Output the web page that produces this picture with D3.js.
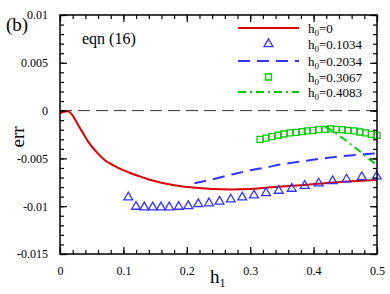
<!DOCTYPE html>
<meta charset="utf-8">
<style>
body { margin: 0; background: #fff; }
svg { font-family: "Liberation Serif", "Times New Roman", serif; }
.axis path { display: none; }
.axis line { stroke: #000; stroke-width: 1.2px; }
.axis text { font-size: 12px; font-family: "Liberation Serif", serif; fill: #000; }
</style>
<svg width="390" height="294"></svg>
<script src="https://d3js.org/d3.v7.min.js"></script>
<script>
// values in units of 1e-3
var redX = [0, 0.006, 0.012, 0.018, 0.024, 0.03, 0.035, 0.045, 0.06, 0.071, 0.085, 0.097, 0.11, 0.124, 0.14, 0.16, 0.18, 0.21, 0.24, 0.27, 0.30, 0.347, 0.39, 0.426, 0.46, 0.5];
var redY = [-0.3, -0.12, -0.08, -0.35, -0.95, -1.65, -2.2, -3.3, -4.5, -5.2, -5.75, -6.15, -6.5, -6.84, -7.2, -7.54, -7.8, -8.05, -8.2, -8.25, -8.2, -7.95, -7.75, -7.54, -7.4, -7.26];

var triX = [0.1077, 0.1199, 0.133, 0.1462, 0.1593, 0.1724, 0.1872, 0.2024, 0.2181, 0.235, 0.2517, 0.2694, 0.2875, 0.306, 0.325, 0.345, 0.3655, 0.386, 0.408, 0.430, 0.452, 0.476, 0.4995];
var triY = [-9.07, -10.05, -10.11, -10.11, -10.11, -10.11, -10.05, -9.98, -9.77, -9.69, -9.51, -9.28, -9.07, -8.86, -8.62, -8.38, -8.17, -7.86, -7.61, -7.37, -7.19, -6.95, -6.88];

var dashX = [0.212, 0.24, 0.273, 0.30, 0.326, 0.35, 0.379, 0.405, 0.431, 0.457, 0.484, 0.5];
var dashY = [-7.6, -7.2, -6.65, -6.25, -5.93, -5.62, -5.34, -5.08, -4.88, -4.7, -4.55, -4.45];

var sqX = [0.3155, 0.325, 0.334, 0.344, 0.353, 0.363, 0.372, 0.382, 0.390, 0.399, 0.408, 0.418, 0.427, 0.436, 0.445, 0.454, 0.464, 0.473, 0.482, 0.491, 0.5];
var sqY = [-3.0, -2.87, -2.73, -2.58, -2.45, -2.34, -2.27, -2.2, -2.13, -2.06, -2.0, -1.96, -1.92, -1.96, -2.0, -2.06, -2.13, -2.24, -2.34, -2.48, -2.6];

var ddX = [0.418, 0.43, 0.442, 0.453, 0.463, 0.474, 0.484, 0.492, 0.5];
var ddY = [-1.72, -2.1, -2.7, -3.2, -3.75, -4.3, -4.9, -5.3, -5.75];

var legendLabels = ["0", "0.1034", "0.2034", "0.3067", "0.4083"];
var xTicks = [0, 0.1, 0.2, 0.3, 0.4, 0.5];
var yTicks = [0.01, 0.005, 0, -0.005, -0.01, -0.015];

var svg = d3.select("svg"),
    pl = 60, pr = 377, pt = 15, pb = 254;

var x = d3.scaleLinear().domain([0, 0.5]).range([pl, pr]),
    y = d3.scaleLinear().domain([-0.015, 0.01]).range([pb, pt]);

function pts(xs, ys) {
  return xs.map(function(d, i) { return [d, ys[i] / 1000]; });
}

var line = d3.line()
    .curve(d3.curveMonotoneX)
    .x(function(d) { return x(d[0]); })
    .y(function(d) { return y(d[1]); });

// zero line
svg.append("line")
    .attr("x1", x(0)).attr("x2", x(0.5))
    .attr("y1", y(0)).attr("y2", y(0))
    .attr("stroke", "#333").attr("stroke-width", 1)
    .attr("stroke-dasharray", "12,6");

var red = "#dd0000", blue = "#3333ff", green = "#00cc00";

svg.append("path").datum(pts(redX, redY))
    .attr("d", line).attr("fill", "none")
    .attr("stroke", red).attr("stroke-width", 2);

svg.append("path").datum(pts(dashX, dashY))
    .attr("d", line).attr("fill", "none")
    .attr("stroke", blue).attr("stroke-width", 2)
    .attr("stroke-dasharray", "12,7");

svg.append("path").datum(pts(ddX, ddY))
    .attr("d", line).attr("fill", "none")
    .attr("stroke", green).attr("stroke-width", 1.8)
    .attr("stroke-dasharray", "8,4,2,4");

var tri = d3.symbol().type(d3.symbolTriangle).size(34),
    sq = d3.symbol().type(d3.symbolSquare).size(36);

svg.selectAll(".tri").data(pts(triX, triY)).enter().append("path")
    .attr("class", "tri")
    .attr("d", tri)
    .attr("transform", function(d) { return "translate(" + x(d[0]) + "," + y(d[1]) + ")"; })
    .attr("fill", "none").attr("stroke", blue).attr("stroke-width", 1.3);

svg.selectAll(".sq").data(pts(sqX, sqY)).enter().append("path")
    .attr("class", "sq")
    .attr("d", sq)
    .attr("transform", function(d) { return "translate(" + x(d[0]) + "," + y(d[1]) + ")"; })
    .attr("fill", "none").attr("stroke", green).attr("stroke-width", 1.3);

// frame
svg.append("rect")
    .attr("x", pl).attr("y", pt)
    .attr("width", pr - pl).attr("height", pb - pt)
    .attr("fill", "none").attr("stroke", "#000").attr("stroke-width", 1.5);

// axes (major ticks inward + minor ticks)
var xMinor = d3.range(0, 0.5001, 0.02), yMinor = d3.range(-0.015, 0.01001, 0.001);

function axisG(tr) {
  return svg.append("g").attr("class", "axis").attr("transform", tr);
}

axisG("translate(0," + pb + ")")
    .call(d3.axisBottom(x).tickValues(xTicks).tickSize(-7).tickPadding(12)
      .tickFormat(function(d) { return d === 0 ? "0" : d3.format(".1f")(d); }))
    .attr("font-family", "Liberation Serif").attr("font-size", 12);
axisG("translate(0," + pb + ")")
    .call(d3.axisBottom(x).tickValues(xMinor).tickSize(-4).tickFormat(""));
axisG("translate(0," + pt + ")")
    .call(d3.axisTop(x).tickValues(xTicks).tickSize(-7).tickFormat(""));
axisG("translate(0," + pt + ")")
    .call(d3.axisTop(x).tickValues(xMinor).tickSize(-4).tickFormat(""));

axisG("translate(" + pl + ",0)")
    .call(d3.axisLeft(y).tickValues(yTicks).tickSize(-7).tickPadding(12)
      .tickFormat(function(d) { return d === 0 ? "0" : String(+d.toFixed(3)); }))
    .attr("font-family", "Liberation Serif").attr("font-size", 12);
axisG("translate(" + pl + ",0)")
    .call(d3.axisLeft(y).tickValues(yMinor).tickSize(-4).tickFormat(""));
axisG("translate(" + pr + ",0)")
    .call(d3.axisRight(y).tickValues(yTicks).tickSize(-7).tickFormat(""));
axisG("translate(" + pr + ",0)")
    .call(d3.axisRight(y).tickValues(yMinor).tickSize(-4).tickFormat(""));

// axis titles
svg.append("text")
    .attr("transform", "translate(24,137) rotate(-90)")
    .attr("text-anchor", "middle")
    .style("font-size", "19px")
    .text("err");

var hl = svg.append("text")
    .attr("x", 210).attr("y", 283)
    .style("font-size", "19px");
hl.append("tspan").text("h");
hl.append("tspan").attr("dy", 4).style("font-size", "12px").text("1");

svg.append("text")
    .attr("x", 6).attr("y", 31)
    .style("font-size", "19px")
    .text("(b)");

svg.append("text")
    .attr("x", 82).attr("y", 44)
    .style("font-size", "16px")
    .text("eqn (16)");

// legend
var lx0 = 238, lx1 = 299, ty = [28, 44, 61, 77, 92];
var leg = svg.append("g");

leg.append("line").attr("x1", lx0).attr("x2", lx1).attr("y1", ty[0]).attr("y2", ty[0])
    .attr("stroke", red).attr("stroke-width", 2);
leg.append("path").attr("d", tri)
    .attr("transform", "translate(" + (lx0 + lx1) / 2 + "," + ty[1] + ")")
    .attr("fill", "none").attr("stroke", blue).attr("stroke-width", 1.3);
leg.append("line").attr("x1", lx0).attr("x2", lx1).attr("y1", ty[2]).attr("y2", ty[2])
    .attr("stroke", blue).attr("stroke-width", 2).attr("stroke-dasharray", "12,7");
leg.append("path").attr("d", sq)
    .attr("transform", "translate(" + (lx0 + lx1) / 2 + "," + ty[3] + ")")
    .attr("fill", "none").attr("stroke", green).attr("stroke-width", 1.3);
leg.append("line").attr("x1", lx0).attr("x2", lx1).attr("y1", ty[4]).attr("y2", ty[4])
    .attr("stroke", green).attr("stroke-width", 1.8).attr("stroke-dasharray", "8,4,2,4");

legendLabels.forEach(function(lab, i) {
  var t = leg.append("text")
      .attr("x", 308).attr("y", ty[i] + 4.5)
      .style("font-size", "13px");
  t.append("tspan").text("h");
  t.append("tspan").attr("dy", 3).style("font-size", "9px").text("0");
  t.append("tspan").attr("dy", -3).text("=" + lab);
});
</script>
